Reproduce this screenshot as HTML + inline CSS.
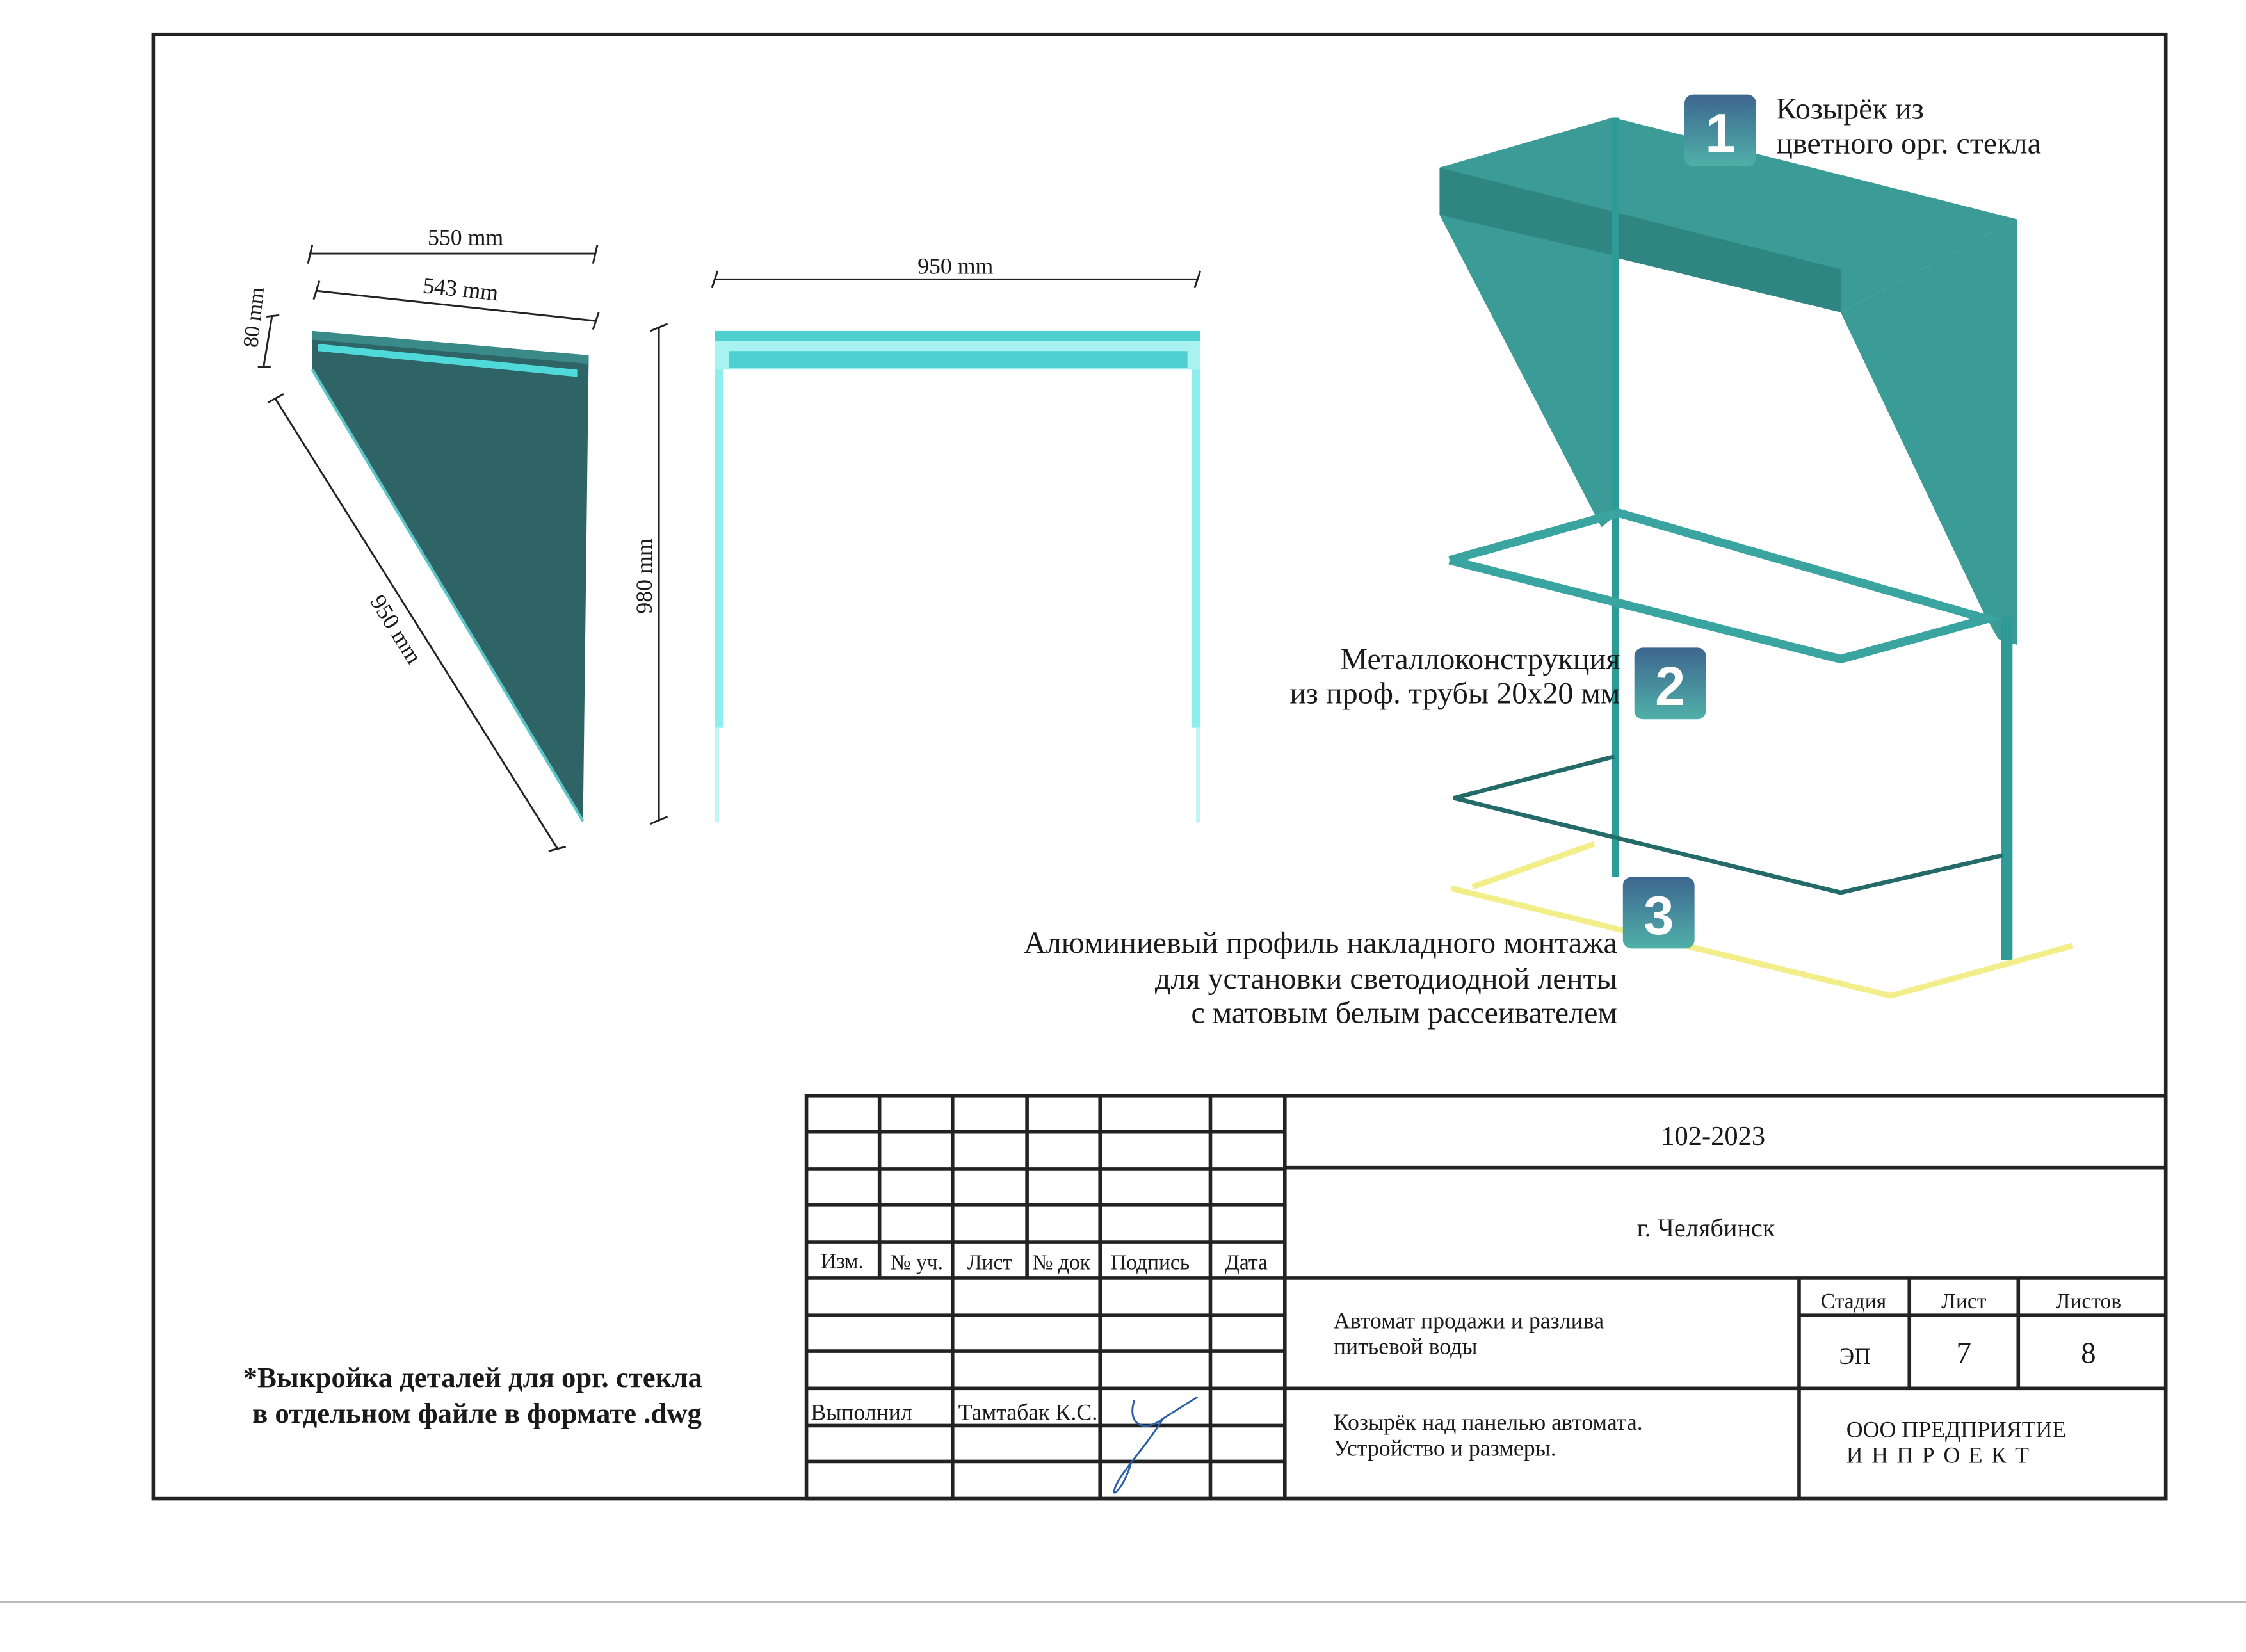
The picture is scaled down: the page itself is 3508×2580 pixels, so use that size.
<!DOCTYPE html>
<html><head><meta charset="utf-8"><style>
html,body{margin:0;padding:0;background:#fff;}
svg{display:block;}
text{font-family:"Liberation Serif",serif;fill:#1a1a1a;}
</style></head><body>
<svg width="3508" height="2580" viewBox="0 0 1568 1153" preserveAspectRatio="none" xmlns="http://www.w3.org/2000/svg">
<rect width="1568" height="1153" fill="#fff"/>
<line x1="0" y1="1118" x2="1568" y2="1118" stroke="#bbb" stroke-width="1.5"/>
<rect x="107" y="24" width="1405" height="1022" fill="none" stroke="#222" stroke-width="2.5"/>

<!-- Side panel -->
<polygon points="218,231 411,248 407,573 218,258" fill="#2e6466"/>
<polygon points="218,231 411,248 411,254 218,237" fill="#3a8a8a"/>
<polygon points="222,240 403,258 403,263 222,245" fill="#4fd9d9"/>
<line x1="218" y1="258" x2="407" y2="573" stroke="#5bc5c8" stroke-width="2"/>
<!-- dims -->
<g stroke="#222" stroke-width="1.3" fill="none">
<line x1="216" y1="177" x2="416" y2="177"/><line x1="218" y1="171" x2="215" y2="184"/><line x1="417" y1="171" x2="414" y2="184"/>
<line x1="221" y1="203" x2="416" y2="224"/><line x1="223" y1="196" x2="219" y2="209"/><line x1="418" y1="218" x2="414" y2="230"/>
<line x1="190" y1="220" x2="184" y2="256"/><line x1="186" y1="221" x2="195" y2="220"/><line x1="180" y1="256" x2="189" y2="256"/>
<line x1="192" y1="278" x2="389" y2="592"/><line x1="187" y1="281" x2="198" y2="275"/><line x1="383" y1="594" x2="395" y2="591"/>
<line x1="460" y1="228" x2="460" y2="573"/><line x1="454" y1="231" x2="466" y2="226"/><line x1="454" y1="575" x2="466" y2="570"/>
<line x1="499" y1="195" x2="836" y2="195"/><line x1="501" y1="189" x2="497" y2="201"/><line x1="838" y1="189" x2="834" y2="201"/>
</g>
<text x="325" y="171" font-size="16" text-anchor="middle">550 mm</text>
<text x="321" y="207" font-size="16" text-anchor="middle" transform="rotate(6 321 207)">543 mm</text>
<text x="182" y="222" font-size="15" text-anchor="middle" transform="rotate(-84 182 222)">80 mm</text>
<text x="272" y="442" font-size="16" text-anchor="middle" transform="rotate(58 272 442)">950 mm</text>
<text x="455" y="402" font-size="16" text-anchor="middle" transform="rotate(-90 455 402)">980 mm</text>
<text x="667" y="191" font-size="16" text-anchor="middle">950 mm</text>

<!-- front frame -->
<rect x="499" y="231" width="339" height="7" fill="#4fd0d0"/>
<rect x="499" y="238" width="339" height="20" fill="#a8f2f2"/>
<rect x="509" y="245" width="320" height="12" fill="#4fd0d0"/>
<rect x="499" y="258" width="6" height="250" fill="#8ceeee"/>
<rect x="832" y="258" width="6" height="250" fill="#8ceeee"/>
<rect x="499" y="508" width="3" height="66" fill="#bff6f6"/>
<rect x="835" y="508" width="3" height="66" fill="#bff6f6"/>

<!-- 3D canopy -->
<polygon points="1005,117 1126,82 1408,153 1285,218" fill="#3a9b97"/>
<polygon points="1005,117 1285,188 1285,218 1005,150" fill="#2f8581"/>
<polygon points="1005,150 1126,178 1128,360 1118,368" fill="#3a9b97"/>
<polygon points="1285,218 1408,153 1408,450 1395,446 1385,428" fill="#3a9b97"/>
<rect x="1125" y="82" width="5" height="530" fill="#2f9b98"/>
<rect x="1397" y="430" width="8" height="240" fill="#2f9b98"/>
<g fill="none" stroke="#3aa5a0" stroke-width="6">
<polyline points="1012,391 1130,358 1387,432 1285,460 1012,391"/>
</g>
<g fill="none" stroke="#236b68" stroke-width="3">
<polyline points="1127,528 1015,557 1285,623 1398,597"/>
</g>
<g fill="none" stroke="#f2ee8a" stroke-width="4">
<polyline points="1113,589 1028,619"/>
<polyline points="1013,620 1320,695 1447,660"/>
</g>

<!-- badges -->
<defs><linearGradient id="bg" x1="0" y1="0" x2="0" y2="1"><stop offset="0" stop-color="#3e6690"/><stop offset="1" stop-color="#4fb0a8"/></linearGradient></defs>
<rect x="1176" y="66" width="50" height="50" rx="6" fill="url(#bg)"/>
<text x="1201" y="106" font-size="38" text-anchor="middle" style="fill:#fff;font-family:'Liberation Sans',sans-serif;font-weight:bold">1</text>
<rect x="1141" y="452" width="50" height="50" rx="6" fill="url(#bg)"/>
<text x="1166" y="492" font-size="38" text-anchor="middle" style="fill:#fff;font-family:'Liberation Sans',sans-serif;font-weight:bold">2</text>
<rect x="1133" y="612" width="50" height="50" rx="6" fill="url(#bg)"/>
<text x="1158" y="652" font-size="38" text-anchor="middle" style="fill:#fff;font-family:'Liberation Sans',sans-serif;font-weight:bold">3</text>

<text x="1240" y="83" font-size="21.5">Козырёк из</text>
<text x="1240" y="107" font-size="21.5">цветного орг. стекла</text>
<text x="1131" y="467" font-size="21.5" text-anchor="end">Металлоконструкция</text>
<text x="1131" y="491" font-size="21.5" text-anchor="end">из проф. трубы 20х20 мм</text>
<text x="1129" y="665" font-size="21.5" text-anchor="end">Алюминиевый профиль накладного монтажа</text>
<text x="1129" y="690" font-size="21.5" text-anchor="end">для установки светодиодной ленты</text>
<text x="1129" y="714" font-size="21.5" text-anchor="end">с матовым белым рассеивателем</text>

<text x="330" y="968" font-size="20" font-weight="bold" text-anchor="middle">*Выкройка деталей для орг. стекла</text>
<text x="333" y="993" font-size="20" font-weight="bold" text-anchor="middle">в отдельном файле в формате .dwg</text>

<!-- title block -->
<g stroke="#222" stroke-width="2.5" fill="none">
<rect x="563" y="765" width="949" height="281"/>
<line x1="897" y1="765" x2="897" y2="1046"/>
<line x1="897" y1="815" x2="1512" y2="815"/>
<line x1="563" y1="892" x2="1512" y2="892"/>
<line x1="563" y1="969" x2="1512" y2="969"/>
<line x1="1256" y1="892" x2="1256" y2="1046"/>
<line x1="1333" y1="892" x2="1333" y2="969"/>
<line x1="1409" y1="892" x2="1409" y2="969"/>
<line x1="1256" y1="918" x2="1512" y2="918"/>
<line x1="614" y1="765" x2="614" y2="892"/>
<line x1="665" y1="765" x2="665" y2="1046"/>
<line x1="717" y1="765" x2="717" y2="892"/>
<line x1="768" y1="765" x2="768" y2="1046"/>
<line x1="845" y1="765" x2="845" y2="1046"/>
<line x1="563" y1="790" x2="897" y2="790"/>
<line x1="563" y1="816" x2="897" y2="816"/>
<line x1="563" y1="841" x2="897" y2="841"/>
<line x1="563" y1="867" x2="897" y2="867"/>
<line x1="563" y1="918" x2="897" y2="918"/>
<line x1="563" y1="943" x2="897" y2="943"/>
<line x1="563" y1="995" x2="897" y2="995"/>
<line x1="563" y1="1020" x2="897" y2="1020"/>
</g>
<g font-size="15">
<text x="588" y="885" text-anchor="middle">Изм.</text>
<text x="640" y="886" text-anchor="middle">№ уч.</text>
<text x="691" y="886" text-anchor="middle">Лист</text>
<text x="741" y="886" text-anchor="middle">№ док</text>
<text x="803" y="886" text-anchor="middle">Подпись</text>
<text x="870" y="886" text-anchor="middle">Дата</text>
<text x="566" y="991" font-size="16">Выполнил</text>
<text x="669" y="991" font-size="16">Тамтабак К.С.</text>
<text x="1294" y="913" text-anchor="middle">Стадия</text>
<text x="1371" y="913" text-anchor="middle">Лист</text>
<text x="1458" y="913" text-anchor="middle">Листов</text>
<text x="1295" y="952" text-anchor="middle" font-size="16">ЭП</text>
<text x="931" y="927" font-size="16">Автомат продажи и разлива</text>
<text x="931" y="945" font-size="16">питьевой воды</text>
<text x="931" y="998" font-size="16">Козырёк над панелью автомата.</text>
<text x="931" y="1016" font-size="16">Устройство и размеры.</text>
<text x="1289" y="1003" font-size="16">ООО ПРЕДПРИЯТИЕ</text>
<text x="1289" y="1021" font-size="16" letter-spacing="6">ИНПРОЕКТ</text>
</g>
<text x="1196" y="799" font-size="19" text-anchor="middle">102-2023</text>
<text x="1191" y="863" font-size="18" text-anchor="middle">г. Челябинск</text>
<text x="1371" y="951" font-size="21" text-anchor="middle">7</text>
<text x="1458" y="951" font-size="21" text-anchor="middle">8</text>
<path d="M792,977 C786,995 800,1000 812,990 L836,975 M812,990 C800,1010 780,1030 778,1040 C776,1045 784,1040 790,1020" fill="none" stroke="#2a5fa8" stroke-width="1.3"/>
</svg>
</body></html>
